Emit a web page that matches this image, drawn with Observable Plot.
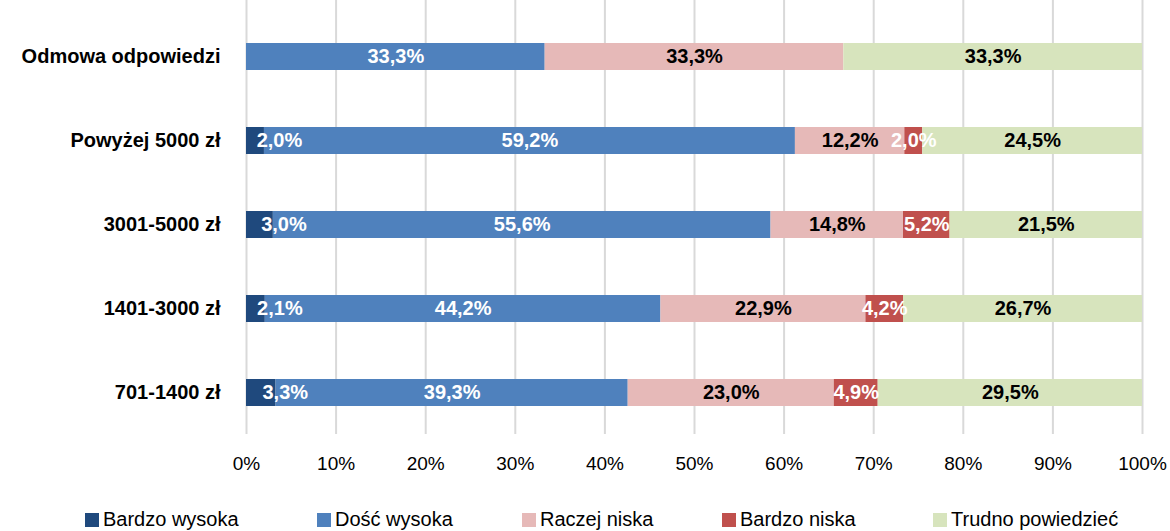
<!DOCTYPE html>
<html><head><meta charset="utf-8">
<script src="https://cdn.jsdelivr.net/npm/d3@7"></script>
<script src="https://cdn.jsdelivr.net/npm/@observablehq/plot@0.6"></script>
<style>
body{margin:0;background:#fff;font-family:"Liberation Sans",Arial,sans-serif;}
#legend{position:relative;height:31px;font-size:20px;color:#000;margin-top:8px}
#legend .it{position:absolute;top:0;display:flex;align-items:center}
#legend .sw{width:14px;height:14px;margin-right:4px}
</style></head>
<body><div id="chart"></div><div id="legend"></div>
<script>
const rows = ["Odmowa odpowiedzi","Powyżej 5000 zł","3001-5000 zł","1401-3000 zł","701-1400 zł"];
const categories = ["Bardzo wysoka","Dość wysoka","Raczej niska","Bardzo niska","Trudno powiedzieć"];
const bardzoWysoka = [0, 2.0, 3.0, 2.1, 3.3];
const doscWysoka   = [33.3, 59.2, 55.6, 44.2, 39.3];
const raczejNiska  = [33.3, 12.2, 14.8, 22.9, 23.0];
const bardzoNiska  = [0, 2.0, 5.2, 4.2, 4.9];
const trudno       = [33.3, 24.5, 21.5, 26.7, 29.5];
const colors = ["#1F497D","#4F81BD","#E6B9B8","#C0504D","#D7E4BD"];
const textColors = ["#fff","#fff","#000","#fff","#000"];
const xTicks = [0,0.1,0.2,0.3,0.4,0.5,0.6,0.7,0.8,0.9,1];
const legendLeft = [85,317,522,722,933];

const series = [bardzoWysoka, doscWysoka, raczejNiska, bardzoNiska, trudno];
const data = [];
rows.forEach((r,i)=>categories.forEach((c,j)=>data.push({row:r,cat:c,value:series[j][i]})));
const fmt = v => v.toFixed(1).replace(".",",") + "%";

const stackOpts = {x:"value", y:"row", z:"cat", offset:"normalize", order:categories};
const pct = d3.format(".0%");

const chart = Plot.plot({
  width:1170, height:500,
  marginLeft:246, marginRight:28, marginTop:0, marginBottom:66,
  x:{domain:[0,1], ticks:xTicks, tickFormat:pct, label:null},
  y:{domain:rows, range:[14,434], paddingInner:0.68, paddingOuter:0.34, label:null},
  color:{domain:categories, range:colors},
  style:{fontFamily:"Liberation Sans, Arial, sans-serif"},
  marks:[
    Plot.ruleX(xTicks,{stroke:"#d9d9d9", strokeWidth:2}),
    Plot.barX(data, Plot.stackX({...stackOpts, fill:"cat"})),
    Plot.text(data, Plot.stackX({...stackOpts,
      text:d=>(d.value>0 && d.cat!=="Bardzo wysoka") ? fmt(d.value) : "",
      fill:d=>textColors[categories.indexOf(d.cat)], fontWeight:"bold", fontSize:20})),
    Plot.text(data, Plot.stackX({...stackOpts,
      text:d=>(d.value>0 && d.cat==="Bardzo wysoka") ? fmt(d.value) : "",
      fill:"#fff", fontWeight:"bold", fontSize:20, dx:24})),
    Plot.axisX({ticks:xTicks, tickFormat:pct, tickSize:0, tickPadding:22, fontSize:19, anchor:"bottom", color:"#000", label:null}),
    Plot.axisY({tickSize:0, tickPadding:26, fontSize:20, fontWeight:"bold", color:"#000", label:null})
  ]
});
document.getElementById("chart").appendChild(chart);

const lg = document.getElementById("legend");
categories.forEach((c,i)=>{
  const it=document.createElement("div");it.className="it";it.style.left=legendLeft[i]+"px";
  const sw=document.createElement("div");sw.className="sw";sw.style.background=colors[i];
  const t=document.createElement("span");t.textContent=c;
  it.appendChild(sw);it.appendChild(t);lg.appendChild(it);
});
</script></body></html>
